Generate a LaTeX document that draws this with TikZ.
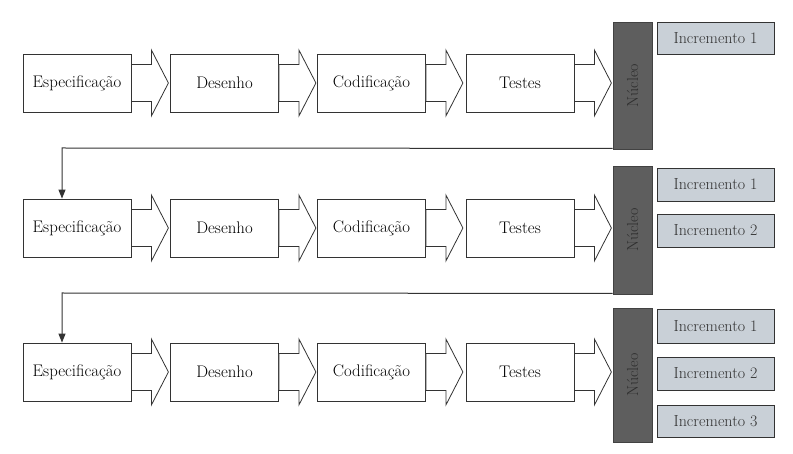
\documentclass[tikz,border=0pt]{standalone}
\usetikzlibrary{arrows.meta}
\definecolor{nucfill}{HTML}{5E5E5E}
\definecolor{nuctext}{HTML}{2E2E2E}
\definecolor{inctext}{HTML}{333333}
\definecolor{incfill}{HTML}{C9D0D7}
\definecolor{linecol}{HTML}{333333}
\begin{document}
\begin{tikzpicture}[x=1pt,y=-1pt,
  stepbox/.style={draw=linecol,line width=0.8pt,fill=white,minimum width=108pt,minimum height=58pt,inner sep=0pt,font=\fontsize{16.8}{19}\selectfont},
  nucbar/.style={draw=nucfill!70!black,line width=0.8pt,fill=nucfill,minimum width=39pt,inner sep=0pt,text=nuctext,font=\fontsize{16}{18}\selectfont},
  incbox/.style={draw=linecol,line width=0.8pt,fill=incfill,minimum width=117pt,minimum height=33pt,inner sep=0pt,text=inctext,font=\fontsize{16}{18}\selectfont},
  blockarrow/.style={draw=linecol,line width=0.8pt,fill=white,line join=miter},
  feedback/.style={draw=linecol,line width=1pt,-{Triangle[length=9pt,width=7pt]}}
]
\useasboundingbox (0,0) rectangle (793,454);
% rows
\foreach \r/\y in {1/83,2/228,3/372}{
  \node[stepbox] (e\r) at (77,\y) {Especificação};
  \node[stepbox] (d\r) at (224.5,\y) {Desenho};
  \node[stepbox] (c\r) at (371.5,\y) {Codificação};
  \node[stepbox] (t\r) at (520,\y) {Testes};
}
% nucleo bars
\node[nucbar,minimum height=127pt] (n1) at (632.5,85.5) {\rotatebox{90}{Núcleo}};
\node[nucbar,minimum height=128pt] (n2) at (632.5,230) {\rotatebox{90}{Núcleo}};
\node[nucbar,minimum height=134pt] (n3) at (632.5,375) {\rotatebox{90}{Núcleo}};
% increments
\node[incbox,minimum height=32pt] (i11) at (715.5,38) {Incremento 1};
\node[incbox] (i21) at (715.5,184.5) {Incremento 1};
\node[incbox] (i22) at (715.5,230.5) {Incremento 2};
\node[incbox,minimum height=34pt] (i31) at (715.5,326) {Incremento 1};
\node[incbox] (i32) at (715.5,373.5) {Incremento 2};
\node[incbox,minimum height=32pt] (i33) at (715.5,421) {Incremento 3};
% block arrows
\foreach \r in {1,2,3}{
  \foreach \a in {e,d,c,t}{
    \path[blockarrow] (\a\r.east) ++(0,-18.5) -- ++(20,0) -- ++(0,-14.5) -- ++(17,33) -- ++(-17,33) -- ++(0,-14.5) -- ++(-20,0) -- cycle;
  }
}
% feedback connectors
\coordinate (k1) at (62,148);
\coordinate (k2) at (62,293);
\draw[feedback] (n1.south west) ++(0,-1) -- (k1) -- (e2.north -| k1);
\draw[feedback] (n2.south west) ++(0,-1) -- (k2) -- (e3.north -| k2);
\end{tikzpicture}
\end{document}
